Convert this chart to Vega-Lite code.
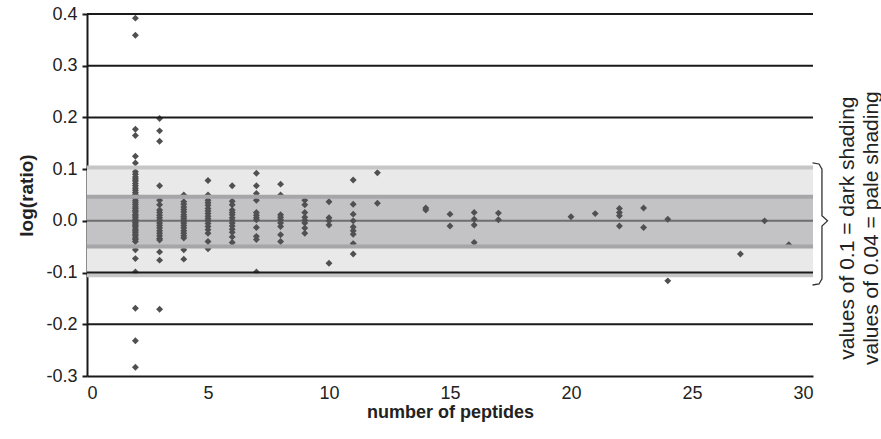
{
  "$schema": "https://vega.github.io/schema/vega-lite/v6.json",
  "autosize": {"type": "none"},
  "width": 726,
  "height": 362,
  "padding": {"left": 87, "top": 14, "right": 68, "bottom": 63},
  "background": "white",
  "config": {
    "view": {"stroke": null},
    "font": "Liberation Sans",
    "axis": {
      "grid": false,
      "domainColor": "#1a1a1a", "domainWidth": 2,
      "labelFontSize": 18, "labelColor": "#222222", "labelFont": "Liberation Sans",
      "titleFontWeight": "bold", "titleColor": "#222222", "titleFont": "Liberation Sans", "titleFontSize": 18
    },
    "axisX": {"ticks": false, "labelPadding": 8, "titlePadding": 1, "titleFontSize": 18, "labelFontSize": 18},
    "axisY": {"ticks": true, "tickSize": 5, "tickWidth": 2, "tickColor": "#1a1a1a", "labelPadding": 5, "titlePadding": 9, "titleFontSize": 19, "labelFontSize": 18}
  },
  "datasets": {
    "pts": [
      {"n":2,"r":0.392},{"n":2,"r":0.359},{"n":2,"r":0.177},{"n":2,"r":0.165},{"n":2,"r":0.125},{"n":2,"r":0.112},
      {"n":2,"r":0.095},{"n":2,"r":0.09},{"n":2,"r":0.085},{"n":2,"r":0.081},{"n":2,"r":0.077},{"n":2,"r":0.072},{"n":2,"r":0.068},{"n":2,"r":0.063},{"n":2,"r":0.059},{"n":2,"r":0.055},{"n":2,"r":0.051},{"n":2,"r":0.047},{"n":2,"r":0.043},{"n":2,"r":0.039},{"n":2,"r":0.035},{"n":2,"r":0.031},{"n":2,"r":0.027},{"n":2,"r":0.024},{"n":2,"r":0.02},{"n":2,"r":0.017},{"n":2,"r":0.013},{"n":2,"r":0.01},{"n":2,"r":0.007},{"n":2,"r":0.003},{"n":2,"r":0.0},{"n":2,"r":-0.003},{"n":2,"r":-0.006},{"n":2,"r":-0.009},{"n":2,"r":-0.012},{"n":2,"r":-0.016},{"n":2,"r":-0.019},{"n":2,"r":-0.022},{"n":2,"r":-0.026},{"n":2,"r":-0.029},{"n":2,"r":-0.033},{"n":2,"r":-0.036},{"n":2,"r":-0.04},
      {"n":2,"r":-0.056},{"n":2,"r":-0.073},{"n":2,"r":-0.099},{"n":2,"r":-0.169},{"n":2,"r":-0.232},{"n":2,"r":-0.283},
      {"n":3,"r":0.198},{"n":3,"r":0.174},{"n":3,"r":0.154},{"n":3,"r":0.068},{"n":3,"r":0.04},{"n":3,"r":0.031},{"n":3,"r":0.021},{"n":3,"r":0.016},{"n":3,"r":0.011},{"n":3,"r":0.006},{"n":3,"r":0.001},{"n":3,"r":-0.004},{"n":3,"r":-0.009},{"n":3,"r":-0.014},{"n":3,"r":-0.019},{"n":3,"r":-0.024},{"n":3,"r":-0.029},{"n":3,"r":-0.034},{"n":3,"r":-0.037},{"n":3,"r":-0.06},{"n":3,"r":-0.076},{"n":3,"r":-0.171},
      {"n":4,"r":0.05},{"n":4,"r":0.037},{"n":4,"r":0.032},{"n":4,"r":0.027},{"n":4,"r":0.022},{"n":4,"r":0.017},{"n":4,"r":0.012},{"n":4,"r":0.008},{"n":4,"r":0.004},{"n":4,"r":0.0},{"n":4,"r":-0.004},{"n":4,"r":-0.009},{"n":4,"r":-0.014},{"n":4,"r":-0.019},{"n":4,"r":-0.024},{"n":4,"r":-0.029},{"n":4,"r":-0.033},{"n":4,"r":-0.056},{"n":4,"r":-0.074},
      {"n":5,"r":0.078},{"n":5,"r":0.05},{"n":5,"r":0.04},{"n":5,"r":0.035},{"n":5,"r":0.03},{"n":5,"r":0.024},{"n":5,"r":0.019},{"n":5,"r":0.014},{"n":5,"r":0.009},{"n":5,"r":0.004},{"n":5,"r":0.0},{"n":5,"r":-0.005},{"n":5,"r":-0.011},{"n":5,"r":-0.017},{"n":5,"r":-0.024},{"n":5,"r":-0.04},{"n":5,"r":-0.054},
      {"n":6,"r":0.068},{"n":6,"r":0.038},{"n":6,"r":0.031},{"n":6,"r":0.021},{"n":6,"r":0.016},{"n":6,"r":0.012},{"n":6,"r":0.006},{"n":6,"r":0.001},{"n":6,"r":-0.004},{"n":6,"r":-0.01},{"n":6,"r":-0.016},{"n":6,"r":-0.022},{"n":6,"r":-0.031},{"n":6,"r":-0.042},
      {"n":7,"r":0.092},{"n":7,"r":0.068},{"n":7,"r":0.053},{"n":7,"r":0.04},{"n":7,"r":0.016},{"n":7,"r":0.011},{"n":7,"r":0.006},{"n":7,"r":0.002},{"n":7,"r":-0.013},{"n":7,"r":-0.03},{"n":7,"r":-0.036},{"n":7,"r":-0.099},
      {"n":8,"r":0.071},{"n":8,"r":0.05},{"n":8,"r":0.012},{"n":8,"r":0.007},{"n":8,"r":0.002},{"n":8,"r":-0.004},{"n":8,"r":-0.011},{"n":8,"r":-0.027},{"n":8,"r":-0.04},
      {"n":9,"r":0.04},{"n":9,"r":0.031},{"n":9,"r":0.016},{"n":9,"r":0.007},{"n":9,"r":0.001},{"n":9,"r":-0.004},{"n":9,"r":-0.014},{"n":9,"r":-0.024},
      {"n":10,"r":0.037},{"n":10,"r":0.006},{"n":10,"r":0.0},{"n":10,"r":-0.008},{"n":10,"r":-0.082},
      {"n":11,"r":0.079},{"n":11,"r":0.032},{"n":11,"r":0.013},{"n":11,"r":0.0},{"n":11,"r":-0.012},{"n":11,"r":-0.019},{"n":11,"r":-0.026},{"n":11,"r":-0.044},{"n":11,"r":-0.064},
      {"n":12,"r":0.093},{"n":12,"r":0.034},
      {"n":14,"r":0.025},{"n":14,"r":0.021},
      {"n":15,"r":0.013},{"n":15,"r":-0.01},
      {"n":16,"r":0.016},{"n":16,"r":0.003},{"n":16,"r":-0.008},{"n":16,"r":-0.042},
      {"n":17,"r":0.015},{"n":17,"r":0.002},
      {"n":20,"r":0.008},
      {"n":21,"r":0.014},
      {"n":22,"r":0.024},{"n":22,"r":0.016},{"n":22,"r":0.01},{"n":22,"r":-0.01},
      {"n":23,"r":0.025},{"n":23,"r":-0.013},
      {"n":24,"r":0.003},{"n":24,"r":-0.116},
      {"n":27,"r":-0.064},
      {"n":28,"r":0.0},
      {"n":29,"r":-0.046}
    ],
    "bracket": [
      {"bx":29.98,"by":0.112,"o":1},
      {"bx":30.25,"by":0.110,"o":2},
      {"bx":30.37,"by":0.100,"o":3},
      {"bx":30.37,"by":0.010,"o":4},
      {"bx":30.6,"by":0.0,"o":5},
      {"bx":30.37,"by":-0.010,"o":6},
      {"bx":30.37,"by":-0.112,"o":7},
      {"bx":30.25,"by":-0.122,"o":8},
      {"bx":29.98,"by":-0.124,"o":9}
    ]
  },
  "layer": [
    {
      "data": {"values": [{"lo": -0.105, "hi": 0.105}]},
      "mark": {"type": "rect", "color": "#e9e9ea"},
      "encoding": {
        "y": {"field": "lo", "type": "quantitative", "title": "log(ratio)", "scale": {"domain": [-0.3, 0.4], "nice": false}, "axis": {"values": [-0.3, -0.2, -0.1, 0, 0.1, 0.2, 0.3, 0.4], "labelExpr": "datum.value < -0.0001 ? '-' + format(-datum.value, '.1f') : format(datum.value, '.1f')"}},
        "y2": {"field": "hi"}
      }
    },
    {
      "data": {"values": [{"lo": -0.0497, "hi": 0.0466}]},
      "mark": {"type": "rect", "color": "#c3c3c5"},
      "encoding": {
        "y": {"field": "lo", "type": "quantitative", "title": "log(ratio)", "scale": {"domain": [-0.3, 0.4], "nice": false}, "axis": {"values": [-0.3, -0.2, -0.1, 0, 0.1, 0.2, 0.3, 0.4], "labelExpr": "datum.value < -0.0001 ? '-' + format(-datum.value, '.1f') : format(datum.value, '.1f')"}},
        "y2": {"field": "hi"}
      }
    },
    {
      "data": {"values": [{"g": 0}]},
      "mark": {"type": "rule", "color": "#6e6e6e", "strokeWidth": 2},
      "encoding": {
        "y": {"field": "g", "type": "quantitative", "title": "log(ratio)", "scale": {"domain": [-0.3, 0.4], "nice": false}, "axis": {"values": [-0.3, -0.2, -0.1, 0, 0.1, 0.2, 0.3, 0.4], "labelExpr": "datum.value < -0.0001 ? '-' + format(-datum.value, '.1f') : format(datum.value, '.1f')"}}
      }
    },
    {
      "data": {"name": "pts"},
      "mark": {"type": "point", "shape": "diamond", "filled": true, "size": 48, "color": "#505050", "opacity": 1},
      "encoding": {
        "x": {"field": "n", "type": "quantitative", "title": "number of peptides", "scale": {"domain": [0, 30], "nice": false}, "axis": {"values": [0, 5, 10, 15, 20, 25, 30]}},
        "y": {"field": "r", "type": "quantitative", "title": "log(ratio)", "scale": {"domain": [-0.3, 0.4], "nice": false}, "axis": {"values": [-0.3, -0.2, -0.1, 0, 0.1, 0.2, 0.3, 0.4], "labelExpr": "datum.value < -0.0001 ? '-' + format(-datum.value, '.1f') : format(datum.value, '.1f')"}}
      }
    },
    {
      "data": {"values": [{"g": 0.103}, {"g": -0.105}]},
      "mark": {"type": "rule", "color": "#c6c6c6", "strokeWidth": 4},
      "encoding": {
        "y": {"field": "g", "type": "quantitative", "title": "log(ratio)", "scale": {"domain": [-0.3, 0.4], "nice": false}, "axis": {"values": [-0.3, -0.2, -0.1, 0, 0.1, 0.2, 0.3, 0.4], "labelExpr": "datum.value < -0.0001 ? '-' + format(-datum.value, '.1f') : format(datum.value, '.1f')"}}
      }
    },
    {
      "data": {"values": [{"g": 0.0466}, {"g": -0.0497}]},
      "mark": {"type": "rule", "color": "#a6a6a8", "strokeWidth": 4},
      "encoding": {
        "y": {"field": "g", "type": "quantitative", "title": "log(ratio)", "scale": {"domain": [-0.3, 0.4], "nice": false}, "axis": {"values": [-0.3, -0.2, -0.1, 0, 0.1, 0.2, 0.3, 0.4], "labelExpr": "datum.value < -0.0001 ? '-' + format(-datum.value, '.1f') : format(datum.value, '.1f')"}}
      }
    },
    {
      "data": {"values": [{"g": 0.4}, {"g": 0.3}, {"g": 0.2}, {"g": -0.1}, {"g": -0.2}]},
      "mark": {"type": "rule", "color": "#1a1a1a", "strokeWidth": 2},
      "encoding": {
        "y": {"field": "g", "type": "quantitative", "title": "log(ratio)", "scale": {"domain": [-0.3, 0.4], "nice": false}, "axis": {"values": [-0.3, -0.2, -0.1, 0, 0.1, 0.2, 0.3, 0.4], "labelExpr": "datum.value < -0.0001 ? '-' + format(-datum.value, '.1f') : format(datum.value, '.1f')"}}
      }
    },
    {
      "data": {"name": "bracket"},
      "mark": {"type": "line", "color": "#333333", "strokeWidth": 1.3, "clip": false},
      "encoding": {
        "x": {"field": "bx", "type": "quantitative", "title": "number of peptides", "scale": {"domain": [0, 30], "nice": false}, "axis": {"values": [0, 5, 10, 15, 20, 25, 30]}},
        "y": {"field": "by", "type": "quantitative", "title": "log(ratio)", "scale": {"domain": [-0.3, 0.4], "nice": false}, "axis": {"values": [-0.3, -0.2, -0.1, 0, 0.1, 0.2, 0.3, 0.4], "labelExpr": "datum.value < -0.0001 ? '-' + format(-datum.value, '.1f') : format(datum.value, '.1f')"}},
        "order": {"field": "o"}
      }
    },
    {
      "data": {"values": [{"label": "values of 0.1 = dark shading"}]},
      "mark": {"type": "text", "angle": 270, "align": "center", "baseline": "middle", "fontSize": 21, "font": "Liberation Sans", "color": "#222222"},
      "encoding": {
        "x": {"datum": 31.45, "type": "quantitative", "title": "number of peptides", "scale": {"domain": [0, 30], "nice": false}, "axis": {"values": [0, 5, 10, 15, 20, 25, 30]}},
        "y": {"datum": -0.014, "type": "quantitative", "title": "log(ratio)", "scale": {"domain": [-0.3, 0.4], "nice": false}, "axis": {"values": [-0.3, -0.2, -0.1, 0, 0.1, 0.2, 0.3, 0.4], "labelExpr": "datum.value < -0.0001 ? '-' + format(-datum.value, '.1f') : format(datum.value, '.1f')"}},
        "text": {"field": "label"}
      }
    },
    {
      "data": {"values": [{"label": "values of 0.04 = pale shading"}]},
      "mark": {"type": "text", "angle": 270, "align": "center", "baseline": "middle", "fontSize": 21, "font": "Liberation Sans", "color": "#222222"},
      "encoding": {
        "x": {"datum": 32.44, "type": "quantitative", "title": "number of peptides", "scale": {"domain": [0, 30], "nice": false}, "axis": {"values": [0, 5, 10, 15, 20, 25, 30]}},
        "y": {"datum": -0.014, "type": "quantitative", "title": "log(ratio)", "scale": {"domain": [-0.3, 0.4], "nice": false}, "axis": {"values": [-0.3, -0.2, -0.1, 0, 0.1, 0.2, 0.3, 0.4], "labelExpr": "datum.value < -0.0001 ? '-' + format(-datum.value, '.1f') : format(datum.value, '.1f')"}},
        "text": {"field": "label"}
      }
    }
  ]
}
